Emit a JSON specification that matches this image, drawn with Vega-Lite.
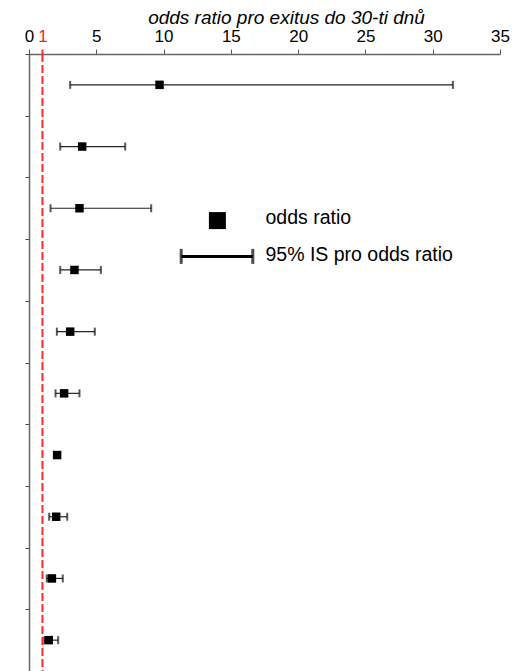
{
  "$schema": "https://vega.github.io/schema/vega-lite/v6.json",
  "width": 471,
  "height": 617,
  "autosize": "none",
  "padding": {"left": 29, "top": 54, "right": 16, "bottom": 0},
  "background": "white",
  "config": {
    "view": {"stroke": null},
    "font": "Liberation Sans"
  },
  "datasets": {
    "or": [
      {"row": 0.5, "or": 9.7, "lo": 3.06, "hi": 31.5},
      {"row": 1.5, "or": 3.95, "lo": 2.32, "hi": 7.15},
      {"row": 2.5, "or": 3.75, "lo": 1.6, "hi": 9.08},
      {"row": 3.5, "or": 3.38, "lo": 2.32, "hi": 5.34},
      {"row": 4.5, "or": 3.06, "lo": 2.07, "hi": 4.89},
      {"row": 5.5, "or": 2.61, "lo": 1.97, "hi": 3.75},
      {"row": 6.5, "or": 2.09, "lo": 1.98, "hi": 2.2},
      {"row": 7.5, "or": 2.02, "lo": 1.5, "hi": 2.84},
      {"row": 8.5, "or": 1.7, "lo": 1.32, "hi": 2.51},
      {"row": 9.5, "or": 1.47, "lo": 1.15, "hi": 2.17}
    ],
    "ref": [{"x": 1}],
    "legsq": [{"x": 14.0, "y": 2.7, "tx": 17.57, "ty": 2.76, "label": "odds ratio"}],
    "legbar": [{"x": 11.31, "x2": 16.63, "y": 3.28, "tx": 17.57, "ty": 3.35, "label": "95% IS pro odds ratio"}]
  },
  "layer": [
    {
      "data": {"name": "ref"},
      "mark": {"type": "rule", "color": "#ff2a2a", "strokeWidth": 2, "strokeDash": [8, 3]},
      "encoding": {
        "x": {
          "field": "x",
          "type": "quantitative",
          "scale": {"domain": [0, 35], "nice": false, "zero": true},
          "axis": {
            "orient": "top",
            "values": [0, 1, 5, 10, 15, 20, 25, 30, 35],
            "labelOverlap": false,
            "labelFlush": false,
            "labelBound": false,
            "labelFontSize": 17,
            "labelFont": "Liberation Sans",
            "labelColor": {"expr": "datum.value == 1 ? '#ff1a1a' : '#000000'"},
            "tickColor": {"expr": "datum.value == 1 ? '#ff2a2a' : '#555555'"},
            "tickWidth": {"expr": "datum.value == 1 ? 2 : 1"},
            "tickSize": 5,
            "labelPadding": 4,
            "domainColor": "#666666",
            "domainWidth": 1.5,
            "grid": false,
            "title": "odds ratio pro exitus do 30-ti dnů",
            "titleFont": "Liberation Sans",
            "titleFontSize": 19,
            "titleFontStyle": "italic",
            "titleFontWeight": "normal",
            "titleColor": "#000000",
            "titleX": 257,
            "titleY": -31,
            "titleAlign": "center",
            "titleBaseline": "alphabetic"
          }
        }
      }
    },
    {
      "data": {"name": "or"},
      "mark": {"type": "rule", "color": "#222222", "strokeWidth": 1.2},
      "encoding": {
        "x": {"field": "lo", "type": "quantitative"},
        "x2": {"field": "hi"},
        "y": {
          "field": "row",
          "type": "quantitative",
          "scale": {"domain": [0, 10], "reverse": true, "nice": false},
          "axis": {
            "orient": "left",
            "values": [0, 1, 2, 3, 4, 5, 6, 7, 8, 9, 10],
            "labels": false,
            "tickSize": 4,
            "tickColor": "#444444",
            "domainColor": "#666666",
            "domainWidth": 1.5,
            "grid": false,
            "title": null
          }
        }
      }
    },
    {
      "data": {"name": "or"},
      "mark": {"type": "tick", "orient": "vertical", "size": 8, "thickness": 2, "color": "#111111"},
      "encoding": {
        "x": {"field": "lo", "type": "quantitative"},
        "y": {"field": "row", "type": "quantitative"}
      }
    },
    {
      "data": {"name": "or"},
      "mark": {"type": "tick", "orient": "vertical", "size": 8, "thickness": 2, "color": "#111111"},
      "encoding": {
        "x": {"field": "hi", "type": "quantitative"},
        "y": {"field": "row", "type": "quantitative"}
      }
    },
    {
      "data": {"name": "or"},
      "mark": {"type": "point", "shape": "square", "filled": true, "color": "#000000", "opacity": 1, "size": 72},
      "encoding": {
        "x": {"field": "or", "type": "quantitative"},
        "y": {"field": "row", "type": "quantitative"}
      }
    },
    {
      "data": {"name": "legsq"},
      "mark": {"type": "point", "shape": "square", "filled": true, "color": "#000000", "opacity": 1, "size": 289},
      "encoding": {
        "x": {"field": "x", "type": "quantitative"},
        "y": {"field": "y", "type": "quantitative"}
      }
    },
    {
      "data": {"name": "legsq"},
      "mark": {"type": "text", "align": "left", "baseline": "alphabetic", "fontSize": 19.5, "font": "Liberation Sans", "color": "#000000"},
      "encoding": {
        "x": {"field": "tx", "type": "quantitative"},
        "y": {"field": "ty", "type": "quantitative"},
        "text": {"field": "label"}
      }
    },
    {
      "data": {"name": "legbar"},
      "mark": {"type": "rule", "color": "#000000", "strokeWidth": 3},
      "encoding": {
        "x": {"field": "x", "type": "quantitative"},
        "x2": {"field": "x2"},
        "y": {"field": "y", "type": "quantitative"}
      }
    },
    {
      "data": {"name": "legbar"},
      "mark": {"type": "tick", "orient": "vertical", "size": 15, "thickness": 3, "color": "#000000"},
      "encoding": {
        "x": {"field": "x", "type": "quantitative"},
        "y": {"field": "y", "type": "quantitative"}
      }
    },
    {
      "data": {"name": "legbar"},
      "mark": {"type": "tick", "orient": "vertical", "size": 15, "thickness": 3, "color": "#000000"},
      "encoding": {
        "x": {"field": "x2", "type": "quantitative"},
        "y": {"field": "y", "type": "quantitative"}
      }
    },
    {
      "data": {"name": "legbar"},
      "mark": {"type": "text", "align": "left", "baseline": "alphabetic", "fontSize": 19.5, "font": "Liberation Sans", "color": "#000000"},
      "encoding": {
        "x": {"field": "tx", "type": "quantitative"},
        "y": {"field": "ty", "type": "quantitative"},
        "text": {"field": "label"}
      }
    }
  ]
}
